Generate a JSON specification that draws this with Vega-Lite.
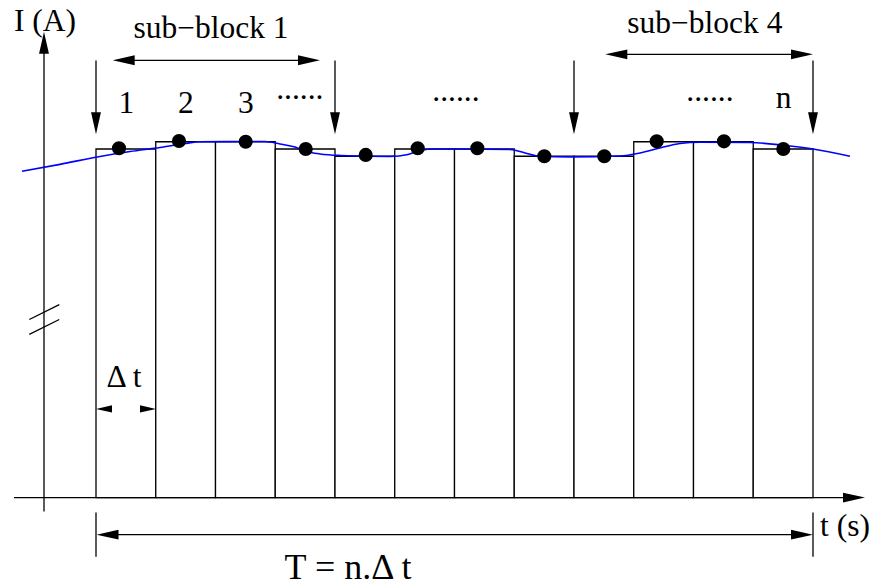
{
  "$schema": "https://vega.github.io/schema/vega-lite/v6.json",
  "width": 873,
  "height": 586,
  "autosize": {"type": "fit", "contains": "padding"},
  "padding": 0,
  "background": "white",
  "config": {"view": {"stroke": null}},
  "datasets": {
    "segs": [
      {"t": -1.3724, "I": 0, "t2": 12.5356, "I2": 0},
      {"t": -0.8703, "I": -1.4, "t2": -0.8703, "I2": 45.0},
      {"t": -1.1163, "I": 17.93, "t2": -0.6142, "I2": 19.43},
      {"t": -1.1163, "I": 16.43, "t2": -0.6142, "I2": 17.93},
      {"t": 0, "I": 44.0, "t2": 0, "I2": 38.1},
      {"t": 4, "I": 44.0, "t2": 4, "I2": 38.1},
      {"t": 8, "I": 44.0, "t2": 8, "I2": 38.1},
      {"t": 12, "I": 44.0, "t2": 12, "I2": 38.1},
      {"t": 0.4636, "I": 44.03, "t2": 3.5649, "I2": 44.03},
      {"t": 8.7079, "I": 44.63, "t2": 11.8159, "I2": 44.63},
      {"t": 0.1925, "I": -3.73, "t2": 11.8159, "I2": -3.73},
      {"t": 0, "I": -1.5, "t2": 0, "I2": -5.97},
      {"t": 12, "I": -1.5, "t2": 12, "I2": -5.97},
      {"t": 0.1172, "I": 8.93, "t2": 0.887, "I2": 8.93}
    ],
    "heads": [
      {"t": 12.6862, "I": 0, "dir": "right"},
      {"t": -0.8703, "I": 45.8, "dir": "up"},
      {"t": 0, "I": 37.7, "dir": "down"},
      {"t": 4, "I": 37.7, "dir": "down"},
      {"t": 8, "I": 37.7, "dir": "down"},
      {"t": 12, "I": 37.7, "dir": "down"},
      {"t": 0.4636, "I": 44.03, "dir": "left"},
      {"t": 3.5649, "I": 44.03, "dir": "right"},
      {"t": 8.7079, "I": 44.63, "dir": "left"},
      {"t": 11.8159, "I": 44.63, "dir": "right"},
      {"t": 0.1925, "I": -3.73, "dir": "left"},
      {"t": 11.8159, "I": -3.73, "dir": "right"}
    ],
    "heads_small": [
      {"t": 0.1339, "I": 8.93, "dir": "left"},
      {"t": 0.8703, "I": 8.93, "dir": "right"}
    ],
    "bars": [
      {"t": 0, "t2": 1, "I": 35.1},
      {"t": 1, "t2": 2, "I": 35.83},
      {"t": 2, "t2": 3, "I": 35.83},
      {"t": 3, "t2": 4, "I": 35.1},
      {"t": 4, "t2": 5, "I": 34.37},
      {"t": 5, "t2": 6, "I": 35.1},
      {"t": 6, "t2": 7, "I": 35.1},
      {"t": 7, "t2": 8, "I": 34.37},
      {"t": 8, "t2": 9, "I": 34.37},
      {"t": 9, "t2": 10, "I": 35.83},
      {"t": 10, "t2": 11, "I": 35.83},
      {"t": 11, "t2": 12, "I": 35.1}
    ],
    "dots": [
      {"t": 0.385, "I": 35.17},
      {"t": 1.389, "I": 35.9},
      {"t": 2.505, "I": 35.83},
      {"t": 3.51, "I": 35.1},
      {"t": 4.514, "I": 34.5},
      {"t": 5.384, "I": 35.17},
      {"t": 6.382, "I": 35.17},
      {"t": 7.503, "I": 34.37},
      {"t": 8.507, "I": 34.37},
      {"t": 9.384, "I": 35.87},
      {"t": 10.51, "I": 35.87},
      {"t": 11.503, "I": 35.1}
    ],
    "curve": [
      {"t": -1.2385, "I": 32.85},
      {"t": -0.6025, "I": 33.55},
      {"t": 0.0669, "I": 34.35},
      {"t": 0.569, "I": 34.85},
      {"t": 1.0711, "I": 35.25},
      {"t": 1.4895, "I": 35.65},
      {"t": 1.7406, "I": 35.83},
      {"t": 2.8285, "I": 35.85},
      {"t": 3.0795, "I": 35.6},
      {"t": 3.3305, "I": 35.3},
      {"t": 3.4979, "I": 34.9},
      {"t": 3.749, "I": 34.6},
      {"t": 4.0837, "I": 34.45},
      {"t": 4.9205, "I": 34.35},
      {"t": 5.2218, "I": 34.55},
      {"t": 5.4226, "I": 34.95},
      {"t": 5.6736, "I": 35.1},
      {"t": 6.9289, "I": 35.05},
      {"t": 7.1799, "I": 34.7},
      {"t": 7.431, "I": 34.35},
      {"t": 7.9331, "I": 34.3},
      {"t": 8.7699, "I": 34.4},
      {"t": 9.1046, "I": 34.7},
      {"t": 9.4393, "I": 35.2},
      {"t": 9.7741, "I": 35.65},
      {"t": 10.1088, "I": 35.78},
      {"t": 10.9456, "I": 35.75},
      {"t": 11.615, "I": 35.4},
      {"t": 12.0, "I": 35.1},
      {"t": 12.6192, "I": 34.37}
    ],
    "labels": [
      {"t": -0.8536, "I": 46.93, "label": "I (A)"},
      {"t": 1.9247, "I": 46.27, "label": "sub−block 1"},
      {"t": 10.191, "I": 46.81, "label": "sub−block 4"},
      {"t": 0.51, "I": 38.77, "label": "1"},
      {"t": 1.506, "I": 38.77, "label": "2"},
      {"t": 2.51, "I": 38.77, "label": "3"},
      {"t": 3.411, "I": 40.15, "label": "......"},
      {"t": 6.025, "I": 39.9, "label": "......"},
      {"t": 10.276, "I": 39.9, "label": "......"},
      {"t": 11.508, "I": 39.2, "label": "n"},
      {"t": 0.4686, "I": 11.17, "label": "Δ t"},
      {"t": 12.536, "I": -3.9, "label": "t (s)"}
    ],
    "formula": [
      {"t": 4.2176, "I": -8.17, "label": "T = n.Δ t"}
    ]
  },
  "encoding": {
    "x": {"field": "t", "type": "quantitative", "scale": {"domain": [-1.6067, 13.0042], "nice": false, "zero": false}, "axis": null},
    "y": {"field": "I", "type": "quantitative", "scale": {"domain": [-8.5, 50.1], "nice": false, "zero": false}, "axis": null}
  },
  "layer": [
    {
      "data": {"name": "segs"},
      "mark": {"type": "rule", "color": "black", "strokeWidth": 1.3},
      "encoding": {"x2": {"field": "t2"}, "y2": {"field": "I2"}}
    },
    {
      "data": {"name": "bars"},
      "mark": {"type": "rect", "fill": "white", "stroke": "black", "strokeWidth": 1.3},
      "encoding": {"x2": {"field": "t2"}, "y2": {"datum": 0}}
    },
    {
      "data": {"name": "curve"},
      "mark": {"type": "line", "color": "#0000ff", "strokeWidth": 1.6, "interpolate": "monotone"},
      "encoding": {"order": {"field": "t", "type": "quantitative"}}
    },
    {
      "data": {"name": "dots"},
      "mark": {"type": "point", "shape": "circle", "filled": true, "color": "black", "opacity": 1, "size": 200},
      "encoding": {}
    },
    {
      "data": {"name": "heads"},
      "mark": {"type": "point", "filled": true, "color": "black", "opacity": 1, "size": 484},
      "encoding": {
        "shape": {"field": "dir", "type": "nominal", "legend": null,
          "scale": {"domain": ["right", "left", "up", "down"],
            "range": ["M1,0L-1,-0.45L-1,0.45Z", "M-1,0L1,-0.45L1,0.45Z", "M0,-1L-0.45,1L0.45,1Z", "M0,1L-0.45,-1L0.45,-1Z"]}}
      }
    },
    {
      "data": {"name": "heads_small"},
      "mark": {"type": "point", "filled": true, "color": "black", "opacity": 1, "size": 256},
      "encoding": {
        "shape": {"field": "dir", "type": "nominal", "legend": null,
          "scale": {"domain": ["right", "left"],
            "range": ["M1,0L-1,-0.85L-1,0.85Z", "M-1,0L1,-0.85L1,0.85Z"]}}
      }
    },
    {
      "data": {"name": "labels"},
      "mark": {"type": "text", "font": "Liberation Serif", "fontSize": 31.5, "align": "center", "baseline": "alphabetic", "color": "black"},
      "encoding": {"text": {"field": "label"}}
    },
    {
      "data": {"name": "formula"},
      "mark": {"type": "text", "font": "Liberation Serif", "fontSize": 36, "align": "center", "baseline": "alphabetic", "color": "black"},
      "encoding": {"text": {"field": "label"}}
    }
  ]
}
